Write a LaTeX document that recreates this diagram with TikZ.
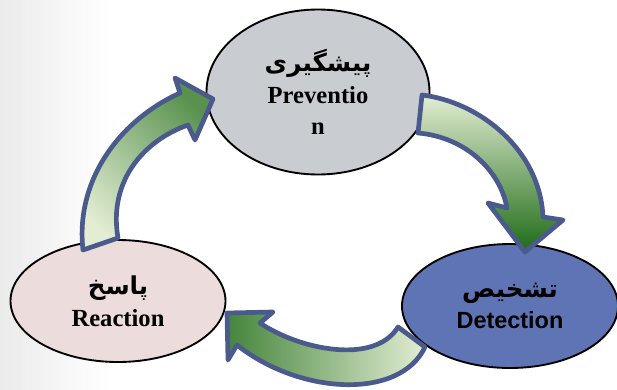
\documentclass[tikz,border=0pt]{standalone}
\usepackage{fontspec}
\setmainfont{Liberation Serif}
\newfontfamily\farsi[Script=Arabic]{DejaVu Sans}
\newfontfamily\arial{Liberation Sans}
\TeXXeTstate=1
\usetikzlibrary{shapes.geometric}
\definecolor{navy}{HTML}{4A5A8C}
\definecolor{lightgreen}{HTML}{E2EDD3}
\definecolor{darkgreen}{HTML}{1E6B16}
\definecolor{prevgray}{HTML}{C9CCD0}
\definecolor{reacpink}{HTML}{ECDCDC}
\definecolor{detblue}{HTML}{5F74B4}

\begin{document}
\begin{tikzpicture}
[x=0.03cm,y=-0.03cm,
every node/.style={ellipse,draw=black,line width=1.6pt,align=center,font=\fontsize{21}{27}\selectfont\bfseries},
arrowbody/.style={draw=navy,line width=4pt,line join=round}]
\useasboundingbox (0,0) rectangle (617,389);
\shade[left color=black!8,right color=white] (0,0) rectangle (110,389);
\node[fill=prevgray,minimum width=6.69cm,minimum height=4.95cm] (prev) at (318,92) {{\farsi\fontsize{21}{27}\selectfont\beginR پیشگیری\endR}\\Preventio\\n};
\node[fill=reacpink,minimum width=6.45cm,minimum height=3.66cm] (reac) at (118,301) {{\farsi\fontsize{21}{27}\selectfont\beginR پاسخ\endR}\\Reaction};
\node[fill=detblue,minimum width=6.48cm,minimum height=3.72cm] (det) at (510,306) {{\farsi\fontsize{21}{27}\selectfont\beginR تشخیص\endR}\\{\arial\fontsize{20}{27}\selectfont Detection}};
% prevention -> detection
\draw[arrowbody,top color=lightgreen,bottom color=darkgreen] (422,95) .. controls (480,102) and (540,150) .. (543,217) -- (563,220) -- (525,252) -- (488,203) -- (507,208) .. controls (500,170) and (465,137) .. (418,133) -- cycle;
% detection -> reaction
\draw[arrowbody,left color=darkgreen!80!lightgreen,right color=lightgreen] (398,327) .. controls (375,365) and (300,350) .. (260,323) -- (273,312) -- (227,313) -- (228,360) -- (237,345) .. controls (300,395) and (400,400) .. (425,347) -- cycle;
% reaction -> prevention
\draw[arrowbody,top color=darkgreen!70!lightgreen,bottom color=lightgreen,shading angle=-45] (83,250) .. controls (75,180) and (120,120) .. (180,93) -- (175,78) -- (213,99) -- (195,140) -- (188,125) .. controls (145,140) and (108,180) .. (118,238) -- cycle;
\end{tikzpicture}
\end{document}
